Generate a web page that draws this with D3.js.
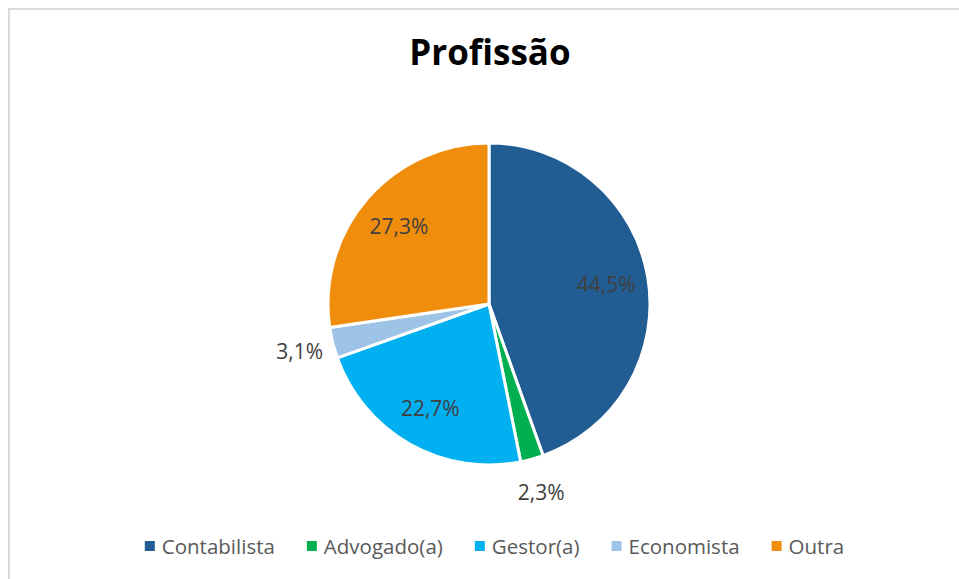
<!DOCTYPE html>
<html>
<head>
<meta charset="utf-8">
<script src="https://cdn.jsdelivr.net/npm/d3@7"></script>
<style>
  body { margin: 0; background: #fff; }
  svg { display: block; }
</style>
</head>
<body>
<div id="chart"></div>
<script>
// data
const categories = ["Contabilista", "Advogado(a)", "Gestor(a)", "Economista", "Outra"];
const percents = [44.5, 2.3, 22.7, 3.1, 27.3];
const colors = ["#215D93", "#00B050", "#00B0F0", "#9DC3E6", "#F18D0D"];
const title = "Profissão";

const width = 959, height = 579;
const cx = 489, cy = 304, radius = 161;
const fontFam = "'Open Sans', 'Noto Sans', sans-serif";

const svg = d3.select("#chart")
    .append("svg")
    .attr("width", width)
    .attr("height", height);

// chart area border
svg.append("rect")
    .attr("x", 9)
    .attr("y", 9)
    .attr("width", width + 20)
    .attr("height", height + 20)
    .attr("fill", "#fff")
    .attr("stroke", "#D9D9D9")
    .attr("stroke-width", 2);

// title
svg.append("text")
    .attr("x", 490)
    .attr("y", 56)
    .attr("text-anchor", "middle")
    .attr("dominant-baseline", "middle")
    .style("font-family", fontFam)
    .style("font-weight", "bold")
    .style("font-size", "35px")
    .style("fill", "#000")
    .text(title);

const data = categories.map((c, i) => ({ name: c, value: percents[i], color: colors[i] }));

const pie = d3.pie()
    .sort(null)
    .value(d => d.value);

const arc = d3.arc()
    .innerRadius(0)
    .outerRadius(radius);

const g = svg.append("g")
    .attr("transform", `translate(${cx},${cy})`);

const arcs = pie(data);

g.selectAll("path")
    .data(arcs)
    .join("path")
    .attr("d", arc)
    .attr("fill", d => d.data.color)
    .attr("stroke", "#fff")
    .attr("stroke-width", 3)
    .attr("stroke-linejoin", "round");

// data labels: small slices go outside
const fmt = v => v.toFixed(1).replace(".", ",") + "%";
g.selectAll("text.lbl")
    .data(arcs)
    .join("text")
    .attr("class", "lbl")
    .attr("transform", d => {
        const r = d.data.value < 5 ? 195 : 119;
        const a = (d.startAngle + d.endAngle) / 2;
        return `translate(${r * Math.sin(a)},${-r * Math.cos(a)})`;
    })
    .attr("text-anchor", "middle")
    .attr("dominant-baseline", "central")
    .style("font-family", fontFam)
    .style("font-size", "21px")
    .style("fill", "#404040")
    .text(d => fmt(d.data.value));

// legend
const legend = svg.append("g");
const items = legend.selectAll("g")
    .data(data)
    .join("g");

items.append("rect")
    .attr("width", 10)
    .attr("height", 10)
    .attr("y", -5)
    .attr("fill", d => d.color);

items.append("text")
    .attr("x", 17)
    .attr("dominant-baseline", "central")
    .style("font-family", fontFam)
    .style("font-size", "20.5px")
    .style("fill", "#595959")
    .text(d => d.name);

let xPos = 0;
items.each(function () {
    const item = d3.select(this);
    const w = item.select("text").node().getComputedTextLength();
    item.attr("transform", `translate(${xPos},0)`);
    xPos += 17 + w + 32;
});
const totalW = xPos - 32;
legend.attr("transform", `translate(${(width - totalW) / 2 + 15},546)`);
</script>
</body>
</html>
